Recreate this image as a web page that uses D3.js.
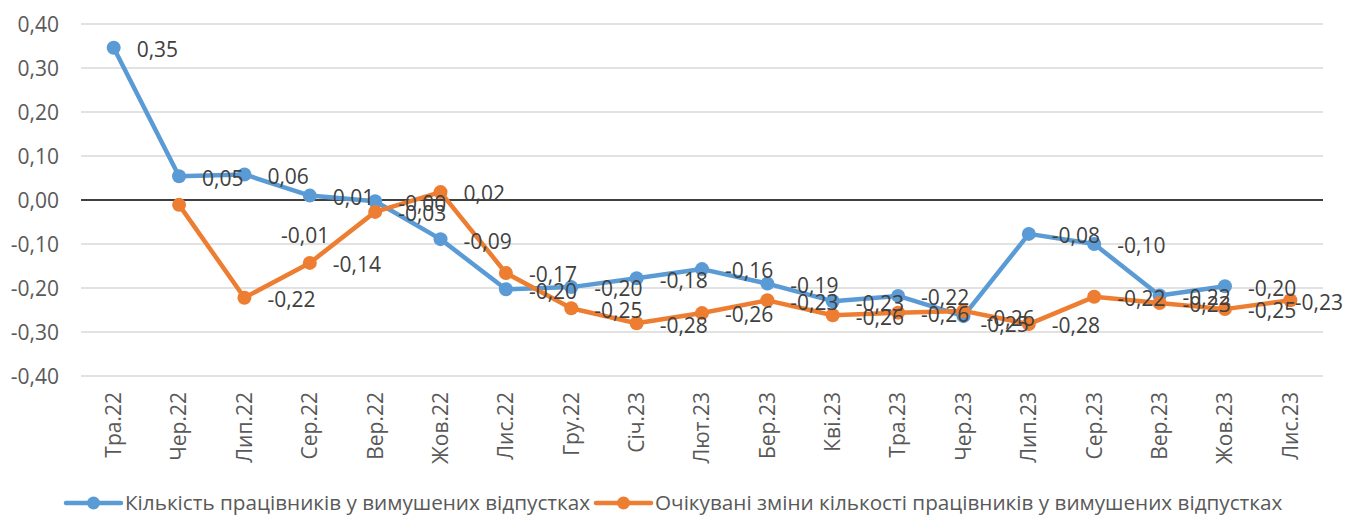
<!DOCTYPE html>
<html>
<head>
<meta charset="utf-8">
<script src="https://cdn.jsdelivr.net/npm/d3@7"></script>
<style>
  html, body { margin: 0; padding: 0; background: #fff; }
  svg { display: block; font-family: "Open Sans", "Noto Sans", sans-serif; }
</style>
</head>
<body>
<svg id="chart" width="1345" height="516"></svg>
<script>
// ---- data ----
const categories = ["Тра.22","Чер.22","Лип.22","Сер.22","Вер.22","Жов.22","Лис.22","Гру.22","Січ.23","Лют.23","Бер.23","Кві.23","Тра.23","Чер.23","Лип.23","Сер.23","Вер.23","Жов.23","Лис.23"];
const seriesNames = ["Кількість працівників у вимушених відпустках", "Очікувані зміни кількості працівників у вимушених відпустках"];
const actualValues = [0.346, 0.054, 0.058, 0.010, -0.003, -0.089, -0.203, -0.198, -0.178, -0.157, -0.190, -0.230, -0.218, -0.264, -0.077, -0.100, -0.217, -0.196, null];
const expectedValues = [null, -0.011, -0.222, -0.143, -0.027, 0.018, -0.166, -0.246, -0.280, -0.257, -0.228, -0.262, -0.256, -0.252, -0.282, -0.220, -0.234, -0.248, -0.228];
const yTicks = [0.40, 0.30, 0.20, 0.10, 0.00, -0.10, -0.20, -0.30, -0.40];
const colors = ["#5B9BD5", "#ED7D31"];

// ---- layout ----
const W = 1345, H = 516;
const plot = { left: 81, right: 1323, top: 24, bottom: 376 };
const FONT = 21;
const LEGEND_FONT = 20.7;
const svg = d3.select("#chart");

const x = d3.scaleBand().domain(categories).range([plot.left, plot.right]).padding(0);
const y = d3.scaleLinear().domain([-0.4, 0.4]).range([plot.bottom, plot.top]);
const cx = c => x(c) + x.bandwidth() / 2;
const fmt = v => v.toFixed(2).replace(".", ",");

// gridlines
svg.append("g").selectAll("line").data(yTicks.filter(t => t !== 0)).join("line")
  .attr("x1", plot.left).attr("x2", plot.right)
  .attr("y1", d => y(d)).attr("y2", d => y(d))
  .attr("stroke", "#d9d9d9").attr("stroke-width", 1.3);

// y axis
const yAxis = d3.axisLeft(y).tickValues(yTicks).tickSize(0).tickPadding(0).tickFormat(fmt);
const yg = svg.append("g").attr("transform", `translate(${plot.left - 22},0)`).call(yAxis);
yg.select(".domain").remove();
yg.selectAll("text").attr("font-size", FONT).attr("fill", "#595959")
  .attr("font-family", "'Open Sans', sans-serif").attr("dy", "0.35em");

// zero line
svg.append("line").attr("x1", plot.left).attr("x2", plot.right)
  .attr("y1", y(0)).attr("y2", y(0)).attr("stroke", "#000").attr("stroke-width", 1.5);

// x axis labels (rotated)
const xAxis = d3.axisBottom(x).tickSize(0).tickPadding(0);
const xg = svg.append("g").attr("transform", `translate(0,${plot.bottom})`).call(xAxis);
xg.select(".domain").remove();
xg.selectAll("text")
  .attr("font-size", FONT).attr("fill", "#595959").attr("font-family", "'Open Sans', sans-serif")
  .attr("text-anchor", "end").attr("transform", "rotate(-90)")
  .attr("x", -16).attr("y", 0).attr("dy", "0.35em");

// series
const series = [actualValues, expectedValues];
const line = d3.line().defined(d => d.v !== null).x(d => cx(d.c)).y(d => y(d.v));
series.forEach((vals, i) => {
  const pts = vals.map((v, j) => ({ c: categories[j], v }));
  const g = svg.append("g");
  g.append("path").datum(pts).attr("d", line).attr("fill", "none")
    .attr("stroke", colors[i]).attr("stroke-width", 4.5).attr("stroke-linejoin", "round");
  g.selectAll("circle").data(pts.filter(d => d.v !== null)).join("circle")
    .attr("cx", d => cx(d.c)).attr("cy", d => y(d.v)).attr("r", 7).attr("fill", colors[i]);
});

// data labels (right of point), with a couple of manual label moves as in the original
const labelMove = { "1-1": [79, 29], "1-13": [-6, 12] };
const lg = svg.append("g");
series.forEach((vals, i) => {
  vals.forEach((v, j) => {
    if (v === null) return;
    const mv = labelMove[i + "-" + j] || [0, 0];
    const t = lg.append("text")
      .attr("x", cx(categories[j]) + 23 + mv[0])
      .attr("y", y(v) + 2 + mv[1])
      .attr("dy", "0.35em")
      .attr("font-size", FONT).attr("fill", "#404040")
      .text(fmt(v));
    const bb = t.node().getBBox();
    if (bb.x + bb.width > W - 2) t.attr("x", W - 2 - bb.width);
  });
});

// legend
const legendY = 503;
const legendItems = [{ x: 66, tx: 125 }, { x: 596, tx: 655 }];
legendItems.forEach((it, i) => {
  const g = svg.append("g");
  g.append("line").attr("x1", it.x).attr("x2", it.x + 55).attr("y1", legendY).attr("y2", legendY)
    .attr("stroke", colors[i]).attr("stroke-width", 4.5).attr("stroke-linecap", "round");
  g.append("circle").attr("cx", it.x + 27.5).attr("cy", legendY).attr("r", 6.5).attr("fill", colors[i]);
  g.append("text").attr("x", it.tx).attr("y", legendY).attr("dy", "0.35em")
    .attr("font-size", LEGEND_FONT).attr("fill", "#595959").text(seriesNames[i]);
});
</script>
</body>
</html>
